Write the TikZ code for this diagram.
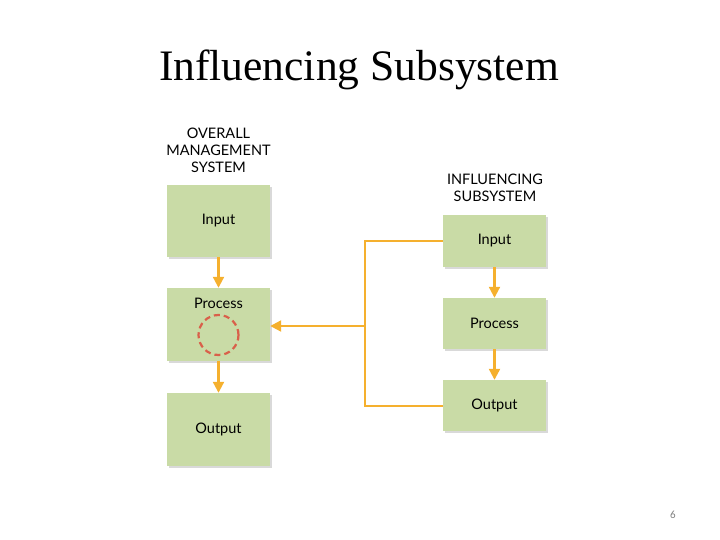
\documentclass[tikz,border=0pt]{standalone}
\usepackage{fontspec}
\setmainfont{Liberation Serif}
\newfontfamily\labelfont{Lato}
\newfontfamily\numfont{Carlito}
\usetikzlibrary{arrows.meta,shadows}
\definecolor{boxgreen}{RGB}{201,219,166}
\definecolor{flow}{RGB}{245,176,46}
\definecolor{circred}{RGB}{217,96,74}
\tikzset{
  stagebox/.style={fill=boxgreen, minimum width=103pt, inner sep=0pt,
    font=\labelfont\fontsize{14.5}{17}\selectfont,
    drop shadow={shadow xshift=2pt, shadow yshift=-2pt, opacity=0.3, fill=gray}},
  flowline/.style={draw=flow, line width=2.2pt},
  flowarrow/.style={flowline, -{Triangle[length=11pt,width=11pt]}},
  heading/.style={font=\labelfont\fontsize{14.5}{17}\selectfont, align=center},
}
\begin{document}
\begin{tikzpicture}[x=1pt,y=-1pt]
\useasboundingbox (0,0) rectangle (720,540);
\node (title) at (359,70) {\fontsize{43.5}{50}\selectfont Influencing Subsystem};
\node[heading] (hl) at (218.5,150) {OVERALL\\MANAGEMENT\\SYSTEM};
\node[heading] (hr) at (495,188) {INFLUENCING\\SUBSYSTEM};
% left column
\node[stagebox, minimum height=72pt] (li) at (218.5,221) {Input};
\node[stagebox, minimum height=73pt] (lp) at (218.5,324.5) {};
\node[font=\labelfont\fontsize{14.5}{17}\selectfont] (lpt) at (218.5,303) {Process};
\node[stagebox, minimum height=73pt] (lo) at (218.5,429.5) {Output};
\node[draw=circred, dash pattern=on 6pt off 4pt, line width=2.2pt, circle, minimum size=40pt, inner sep=0pt] (circ) at (218.5,335) {};
% right column
\node[stagebox, minimum height=52pt] (ri) at (494.5,241) {Input};
\node[stagebox, minimum height=51pt] (rp) at (494.5,323.5) {Process};
\node[stagebox, minimum height=51pt] (ro) at (494.5,405.5) {Output};
% connectors
\draw[flowarrow] (li.south) -- (lp.north);
\draw[flowarrow] (lp.south) -- (lo.north);
\draw[flowarrow] (ri.south) -- (rp.north);
\draw[flowarrow] (rp.south) -- (ro.north);
\coordinate (jt) at (365,241);
\coordinate (jm) at (365,326);
\coordinate (jb) at (365,406);
\draw[flowline, line join=miter] (ri.west |- jt) -- (jt) -- (jb) -- (ro.west |- jb);
\draw[flowarrow] (jm) -- (lp.east |- jm);
\node[font=\numfont\fontsize{11}{13}\selectfont, text=gray] (pg) at (673,515) {6};
\end{tikzpicture}
\end{document}
